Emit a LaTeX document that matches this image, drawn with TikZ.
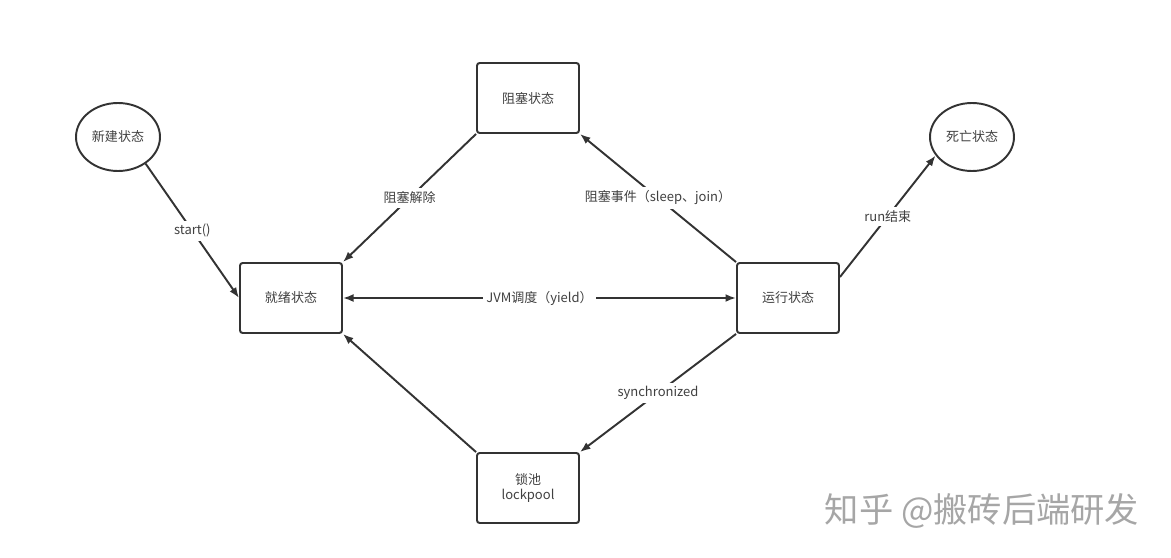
\documentclass[tikz,border=0pt]{standalone}
\usepackage{fontspec}
\newfontfamily\cjk{Noto Sans CJK SC}
\usepackage{tikz}
\usetikzlibrary{arrows.meta, shapes.geometric}

\begin{document}
\begin{tikzpicture}[
  x=0.02cm, y=-0.02cm,
  every node/.style={font=\cjk\fontsize{7.4}{9}\selectfont, text=black!75},
  box/.style={draw=black!80, line width=1.1pt, rounded corners=1.5pt, minimum width=2.04cm, minimum height=1.4cm, align=center},
  oval/.style={ellipse, draw=black!80, line width=1.1pt, minimum width=1.68cm, minimum height=1.36cm, inner sep=0pt},
  lbl/.style={fill=white, inner sep=2pt},
  line/.style={draw=black!80, line width=1.1pt},
  arr/.style={line, -{Latex[length=6pt, width=4.5pt]}},
  biarr/.style={line, {Latex[length=6pt, width=4.5pt]}-{Latex[length=6pt, width=4.5pt]}}
]
  \useasboundingbox (0,0) rectangle (1171,558);

  \node[oval] (new)  at (118, 137) {新建状态};
  \node[oval] (dead) at (972, 137) {死亡状态};
  \node[box]  (blk)  at (528, 98)  {阻塞状态};
  \node[box]  (rdy)  at (291, 298) {就绪状态};
  \node[box]  (run)  at (788, 298) {运行状态};
  \node[box]  (lock) at (528, 488) {锁池\\lockpool};

  \draw[arr] (new.-44) -- node[lbl] {start()} (rdy.west);
  \draw[arr] (blk.south west) -- node[lbl] {阻塞解除} (rdy.north east);
  \draw[arr] (run.north west) -- node[lbl] {阻塞事件（sleep、join）} (blk.south east);
  \draw[arr] (run.22) -- node[lbl] {run结束} (dead.207);
  \draw[biarr] (rdy.east) -- node[lbl] {JVM调度（yield）} (run.west);
  \draw[arr] (run.south west) -- node[lbl] {synchronized} (lock.north east);
  \draw[arr] (lock.north west) -- (rdy.south east);

  \node[font=\cjk\fontsize{19.5}{22}\selectfont, text=black!35] (mark) at (982, 511) {知乎 @搬砖后端研发};
\end{tikzpicture}
\end{document}
